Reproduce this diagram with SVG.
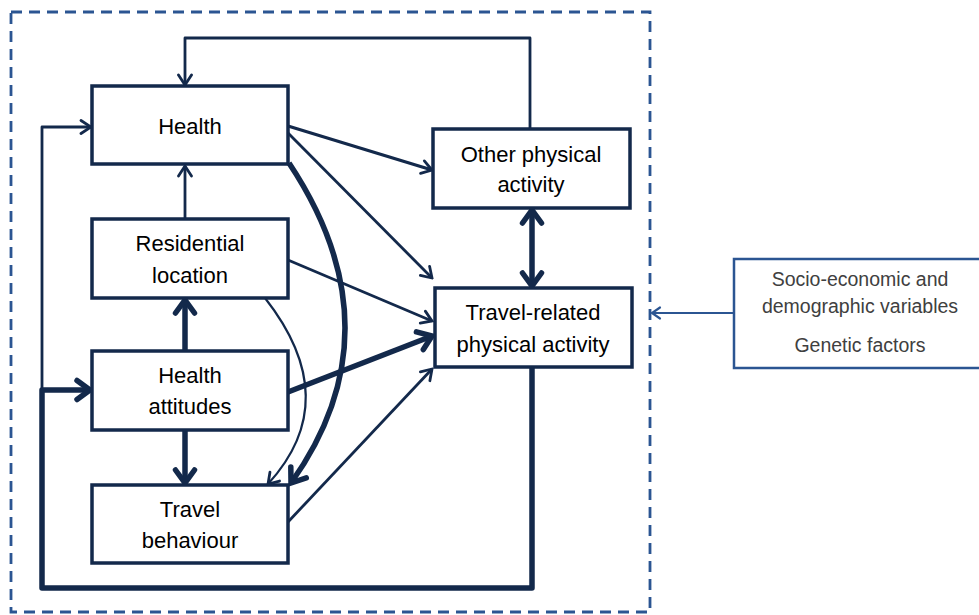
<svg xmlns="http://www.w3.org/2000/svg" width="979" height="615" viewBox="0 0 979 615">
<style>
.box{fill:#fff;stroke:#13294B;stroke-width:3.5}
.lbl{font-family:"Liberation Sans",Arial,sans-serif;font-size:22px;fill:#000;text-anchor:middle}
.side{font-family:"Liberation Sans",Arial,sans-serif;font-size:19.5px;fill:#404040;text-anchor:middle}
.c{fill:none;stroke:#13294B;stroke-linejoin:round}
.t{stroke-width:2.8;marker-end:url(#ah)}
.k{stroke-width:5.5;marker-end:url(#ahk)}
</style>
<defs>
<marker id="ah" markerUnits="userSpaceOnUse" viewBox="-14 -9 16 18" refX="0" refY="0" markerWidth="16" markerHeight="18" orient="auto-start-reverse">
<path d="M-10,-6.5 L0,0 L-10,6.5" fill="none" stroke="#13294B" stroke-width="2.8" stroke-linecap="round" stroke-linejoin="miter"/>
</marker>
<marker id="ahk" markerUnits="userSpaceOnUse" viewBox="-18 -13 22 26" refX="0" refY="0" markerWidth="22" markerHeight="26" orient="auto-start-reverse">
<path d="M-13,-9.5 L0,0 L-13,9.5" fill="none" stroke="#13294B" stroke-width="5.5" stroke-linecap="round" stroke-linejoin="miter"/>
</marker>
<marker id="ahb" markerUnits="userSpaceOnUse" viewBox="-12 -8 14 16" refX="0" refY="0" markerWidth="14" markerHeight="16" orient="auto">
<path d="M-8,-5.5 L0,0 L-8,5.5" fill="none" stroke="#2B5592" stroke-width="2.2" stroke-linecap="round"/>
</marker>
</defs>
<rect x="11" y="12" width="639" height="600" fill="none" stroke="#2B5592" stroke-width="2.8" stroke-dasharray="11,7"/>
<g id="connectors">
<path class="c t" d="M530,129 V38 H185 V85"/>
<path class="c t" d="M42,390 V127 H91"/>
<path class="c k" d="M532,367 V588 H42 V390 H90"/>
<path class="c t" d="M185,219 V166"/>
<path class="c k" d="M185,351 V300"/>
<path class="c k" d="M185,430 V483"/>
<path class="c k" d="M532,210 V286" style="marker-start:url(#ahk)"/>
<path class="c" style="stroke-width:3.2;marker-end:url(#ah)" d="M288,126 L432,170"/>
<path class="c t" d="M288,133 L432,278"/>
<path class="c t" d="M288,260 L432,321"/>
<path class="c k" d="M288,392 L432,336"/>
<path class="c t" d="M288,522 L432,369"/>
<path class="c k" d="M289,163 Q400,330 291,483"/>
<path class="c" style="stroke-width:2.2;marker-end:url(#ah)" d="M265,298 Q345,400 268,484"/>
<path fill="none" stroke="#2B5592" stroke-width="2.2" marker-end="url(#ahb)" d="M734,313 H652"/>
</g>
<g id="health"><rect class="box" x="92" y="86" width="196" height="78"/><text class="lbl" x="190" y="134">Health</text></g>
<g id="residential"><rect class="box" x="92" y="219" width="196" height="79"/><text class="lbl" x="190" y="251">Residential</text><text class="lbl" x="190" y="283">location</text></g>
<g id="attitudes"><rect class="box" x="92" y="351" width="196" height="79"/><text class="lbl" x="190" y="383">Health</text><text class="lbl" x="190" y="414">attitudes</text></g>
<g id="travel"><rect class="box" x="92" y="485" width="196" height="78"/><text class="lbl" x="190" y="517">Travel</text><text class="lbl" x="190" y="548">behaviour</text></g>
<g id="otherpa"><rect class="box" x="433" y="129" width="197" height="79"/><text class="lbl" x="531" y="162">Other physical</text><text class="lbl" x="531" y="192">activity</text></g>
<g id="travelpa"><rect class="box" x="435" y="288" width="197" height="79"/><text class="lbl" x="533" y="320">Travel-related</text><text class="lbl" x="533" y="352">physical activity</text></g>
<g id="socio"><rect x="734" y="259" width="250" height="109" fill="#fff" stroke="#2B5592" stroke-width="2.5"/><text class="side" x="860" y="286">Socio-economic and</text><text class="side" x="860" y="313">demographic variables</text><text class="side" x="860" y="352">Genetic factors</text></g>
</svg>
